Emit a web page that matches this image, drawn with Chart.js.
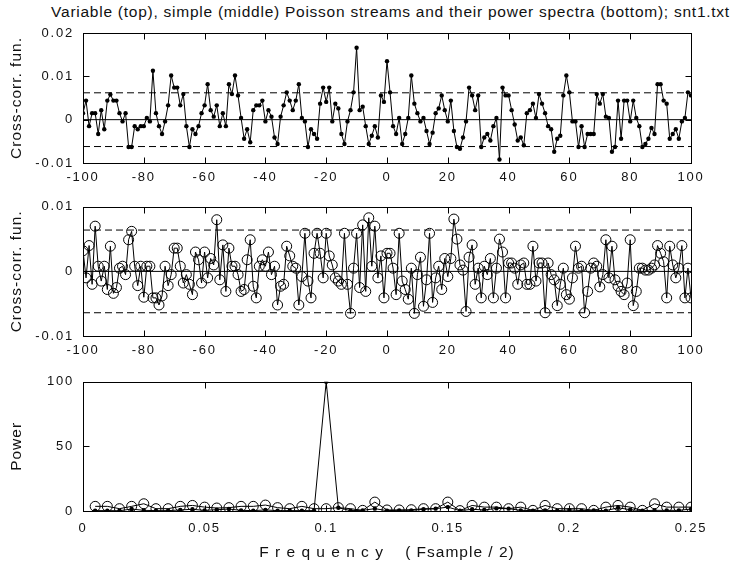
<!DOCTYPE html>
<html>
<head>
<meta charset="utf-8">
<script src="https://cdn.jsdelivr.net/npm/chart.js@4.4.0/dist/chart.umd.min.js"></script>
<style>
  body { margin: 0; background: #fff; width: 750px; height: 565px; position: relative; overflow: hidden; }
  canvas { position: absolute; left: 0; }
  #title { position: absolute; top: 3px; left: 10px; width: 761px; text-align: center; font: 15.5px/18px "Liberation Sans", Arial, sans-serif; letter-spacing: 0.75px; color: #111; white-space: nowrap; }
</style>
</head>
<body>
<div id="title">Variable (top), simple (middle) Poisson streams and their power spectra (bottom); snt1.txt</div>
<canvas id="topChart" width="750" height="195" style="top:0"></canvas>
<canvas id="midChart" width="750" height="190" style="top:190px"></canvas>
<canvas id="specChart" width="750" height="200" style="top:365px"></canvas>
<script>
// lags -100 .. 100
const lags = Array.from({ length: 201 }, (_, i) => i - 100);
const lagRange = [-100, 100];
const lagTicks = [-100, -80, -60, -40, -20, 0, 20, 40, 60, 80, 100];

// variable Poisson stream, cross-correlation (top)
const topCorr = [
  0.0015, 0.0044, -0.0015, 0.0015, 0.0015, -0.0033, 0.0022, -0.0022, 0.0044, 0.0058,
  0.0044, 0.0044, 0.0015, -0.0004, 0.0015, -0.0063, -0.0063, -0.0015, -0.0022, -0.0015,
  -0.0015, 0.0004, -0.0004, 0.0113, 0.0015, -0.0015, -0.0033, -0.0004, 0.0033, 0.0102,
  0.0074, 0.0074, 0.0033, 0.0059, -0.0015, -0.0063, -0.0022, -0.0033, -0.0015, 0.0015,
  0.0033, 0.0082, 0.0022, 0.0007, 0.0033, -0.0015, 0.0015, -0.0015, 0.0082, 0.0059,
  0.0102, 0.0056, 0.0004, -0.0044, -0.0022, -0.0052, 0.0022, 0.0033, 0.0033, 0.0044,
  -0.0004, 0.0022, 0.0007, -0.0041, -0.0056, 0.0007, 0.0033, 0.0063, 0.0044, 0.0022,
  0.0044, 0.0082, 0.0004, -0.0004, -0.0063, -0.0022, -0.0033, -0.0044, 0.0037, 0.0074,
  0.0041, 0.0074, -0.0004, 0.0037, 0.0026, -0.0033, -0.0056, -0.0004, 0.0022, 0.0063,
  0.0166, 0.0022, 0.0030, -0.0015, -0.0056, -0.0037, -0.0015, -0.0041, 0.0056, 0.0041,
  0.0135, 0.0063, -0.0015, -0.0033, 0.0004, -0.0056, -0.0033, 0.0004, 0.0102, 0.0037,
  0.0015, -0.0004, 0.0004, -0.0026, -0.0056, -0.0030, 0.0015, 0.0026, 0.0056, 0.0022,
  -0.0004, 0.0044, -0.0026, -0.0063, -0.0067, -0.0041, -0.0004, 0.0074, 0.0056, 0.0022,
  0.0056, -0.0063, -0.0041, -0.0033, -0.0048, -0.0015, 0.0004, -0.0092, 0.0074, 0.0056,
  0.0056, 0.0022, -0.0011, -0.0048, -0.0041, -0.0059, 0.0015, 0.0022, 0.0037, 0.0004,
  0.0059, 0.0037, 0.0015, -0.0015, -0.0022, -0.0074, -0.0044, -0.0037, 0.0056, 0.0102,
  0.0063, -0.0004, -0.0004, -0.0063, -0.0015, -0.0063, -0.0033, -0.0033, -0.0033, 0.0059,
  0.0037, 0.0059, 0.0007, 0.0004, -0.0074, -0.0063, 0.0044, -0.0044, 0.0044, 0.0044,
  -0.0004, 0.0044, 0.0004, -0.0015, -0.0063, -0.0056, -0.0044, -0.0019, -0.0033, 0.0082,
  0.0082, 0.0044, 0.0037, -0.0044, -0.0033, -0.0022, -0.0044, -0.0004, 0.0004, 0.0063,
  0.0056
];
const topBand = [-0.0062, 0.0062];
const topYRange = [-0.01, 0.02];
const topYTicks = [-0.01, 0, 0.01, 0.02];

// simple Poisson stream, cross-correlation (middle)
const midCorr = [
  0.0032, -0.0010, 0.0040, -0.0020, 0.0070, 0.0008, -0.0015, 0.0008, -0.0028, 0.0039,
  -0.0034, -0.0025, 0.0005, 0.0008, -0.0005, 0.0049, 0.0062, 0.0008, -0.0022, 0.0008,
  -0.0040, 0.0008, 0.0008, -0.0041, -0.0041, -0.0052, -0.0038, 0.0008, -0.0022, -0.0005,
  0.0036, 0.0036, 0.0008, -0.0018, -0.0005, -0.0020, -0.0036, 0.0030, 0.0018, -0.0018,
  0.0030, -0.0010, 0.0020, 0.0010, 0.0080, -0.0013, 0.0041, -0.0031, 0.0036, 0.0008,
  0.0008, -0.0005, -0.0031, -0.0028, 0.0018, 0.0049, -0.0023, -0.0041, 0.0008, 0.0018,
  0.0008, 0.0030, -0.0005, 0.0008, -0.0052, -0.0023, -0.0020, 0.0039, 0.0024, 0.0008,
  0.0005, -0.0052, -0.0008, 0.0059, -0.0015, -0.0041, 0.0028, 0.0059, 0.0028, -0.0010,
  0.0059, 0.0024, 0.0010, -0.0010, -0.0015, -0.0020, 0.0059, -0.0020, -0.0065, 0.0005,
  0.0059, -0.0025, 0.0072, -0.0031, 0.0083, 0.0008, 0.0070, -0.0010, 0.0024, -0.0041,
  0.0028, 0.0028, 0.0005, -0.0036, 0.0059, -0.0015, -0.0028, -0.0043, 0.0005, -0.0065,
  -0.0005, 0.0022, -0.0054, -0.0013, 0.0059, -0.0048, -0.0010, 0.0008, -0.0028, 0.0020,
  -0.0008, 0.0020, 0.0081, 0.0050, 0.0010, 0.0002, -0.0062, 0.0022, 0.0041, -0.0020,
  0.0005, -0.0041, 0.0008, -0.0005, 0.0020, -0.0041, 0.0005, 0.0050, 0.0030, -0.0041,
  0.0013, 0.0013, 0.0005, -0.0020, 0.0010, 0.0013, -0.0020, -0.0020, 0.0039, -0.0015,
  0.0013, 0.0013, -0.0064, 0.0013, -0.0005, -0.0013, -0.0053, -0.0020, 0.0005, -0.0036,
  -0.0043, -0.0010, 0.0039, 0.0005, 0.0008, -0.0064, -0.0031, 0.0005, 0.0013, 0.0008,
  -0.0024, -0.0005, 0.0049, -0.0010, 0.0039, -0.0013, -0.0023, -0.0031, -0.0036, -0.0018,
  0.0049, -0.0053, -0.0031, 0.0005, 0.0005, 0.0002, 0.0002, 0.0005, 0.0010, 0.0040,
  0.0028, 0.0015, -0.0041, 0.0039, 0.0010, -0.0010, 0.0005, 0.0040, -0.0041, 0.0005,
  -0.0041
];
const midBand = [-0.0064, 0.0064];
const midYRange = [-0.01, 0.01];
const midYTicks = [-0.01, 0, 0.01];

// power spectra (bottom), frequency 0.005 .. 0.25
const freqs = Array.from({ length: 50 }, (_, i) => +((i + 1) * 0.005).toFixed(3));
const freqRange = [0, 0.25];
const freqTicks = [0, 0.05, 0.1, 0.15, 0.2, 0.25];
const powerVariable = [
  0.3, 0.3, 0.2, 1.5, 0.5, 0.3, 0.3, 0.8, 1.3, 0.5,
  1.0, 1.5, 0.5, 0.3, 0.8, 0.3, 0.3, 0.3, 0.3, 100,
  2.5, 0.3, 0.5, 1.8, 0.3, 0.5, 0.5, 1.3, 1.8, 3.0,
  0.3, 1.3, 0.8, 2.0, 1.8, 0.5, 0.3, 0.5, 0.3, 0.8,
  0.3, 0.5, 0.3, 2.5, 1.0, 0.3, 0.5, 0.5, 0.5, 1.5
];
const powerSimple = [
  3.6, 3.6, 1.8, 3.6, 5.6, 1.8, 1.8, 3.6, 4.3, 3.0,
  2.3, 2.6, 3.6, 3.6, 4.6, 2.6, 1.8, 3.6, 1.8, 1.8,
  2.6, 1.8, 0.5, 6.9, 0.8, 0.8, 1.0, 1.8, 1.8, 6.9,
  0.3, 4.3, 3.0, 3.0, 1.8, 3.0, 0.5, 4.3, 1.8, 1.8,
  1.8, 0.5, 3.0, 4.3, 3.0, 0.5, 5.6, 3.0, 3.0, 3.0
];
const powerRange = [0, 100];
const powerTicks = [0, 50, 100];

const FONT = '"Liberation Sans", Arial, sans-serif';
Chart.defaults.font.family = FONT;
Chart.defaults.font.size = 13;
Chart.defaults.color = '#111';
Chart.defaults.animation = false;

// box round the axes with inward tick marks, like the original
const boxTicks = {
  id: 'boxTicks',
  afterLayout(chart) {
    // tick labels are spaced wider than the axis titles
    Object.values(chart.scales).forEach(s => {
      if (s._spaced) return;
      const orig = s.drawLabels;
      s.drawLabels = function (area) {
        const prev = this.ctx.letterSpacing;
        this.ctx.letterSpacing = '1.8px';
        orig.call(this, area);
        this.ctx.letterSpacing = prev;
      };
      s._spaced = true;
    });
  },
  beforeDraw(chart) {
    chart.ctx.letterSpacing = '1px';
  },
  afterDraw(chart) {
    const { ctx, chartArea: a, scales } = chart;
    const L = Math.round(a.left) + 0.5, R = Math.round(a.right) + 0.5;
    const T = Math.round(a.top) + 0.5, B = Math.round(a.bottom) + 0.5;
    ctx.save();
    ctx.strokeStyle = '#000';
    ctx.lineWidth = 1;
    ctx.strokeRect(L, T, R - L, B - T);
    ctx.beginPath();
    scales.x.ticks.forEach(t => {
      const px = Math.round(scales.x.getPixelForValue(t.value)) + 0.5;
      ctx.moveTo(px, B); ctx.lineTo(px, B - 6);
      ctx.moveTo(px, T); ctx.lineTo(px, T + 6);
    });
    scales.y.ticks.forEach(t => {
      const py = Math.round(scales.y.getPixelForValue(t.value)) + 0.5;
      ctx.moveTo(L, py); ctx.lineTo(L + 6, py);
      ctx.moveTo(R, py); ctx.lineTo(R - 6, py);
    });
    ctx.stroke();
    ctx.restore();
  }
};

function setTicks(vals) {
  return scale => { scale.ticks = vals.map(v => ({ value: v })); };
}

function xAxis(range, tickVals, height, pad, title) {
  return {
    type: 'linear',
    min: range[0],
    max: range[1],
    grid: { display: false, drawTicks: false },
    border: { display: false },
    afterBuildTicks: setTicks(tickVals),
    afterFit: s => { s.height = height; },
    ticks: { padding: pad, maxRotation: 0, autoSkip: false, callback: v => String(v) },
    title: title
      ? { display: true, text: title, font: { size: 15.5 }, padding: { top: 0, bottom: 3 } }
      : { display: false }
  };
}

function yAxis(range, tickVals, title) {
  return {
    min: range[0],
    max: range[1],
    grid: { display: false, drawTicks: false },
    border: { display: false },
    afterBuildTicks: setTicks(tickVals),
    afterFit: s => { s.width = 83; },
    ticks: { padding: 9, callback: v => String(v) },
    title: { display: true, text: title, font: { size: 15.5 }, padding: { top: 7, bottom: 0 } }
  };
}

function flatLine(range, y, dash) {
  return {
    data: [{ x: range[0], y: y }, { x: range[1], y: y }],
    borderColor: '#000',
    borderWidth: 1,
    borderDash: dash,
    pointRadius: 0
  };
}

function baseOptions(padTop, x, y) {
  return {
    responsive: false,
    layout: { padding: { top: padTop, right: 59, left: 0, bottom: 0 } },
    plugins: { legend: { display: false }, tooltip: { enabled: false } },
    elements: { line: { tension: 0 } },
    scales: { x: x, y: y }
  };
}

new Chart(document.getElementById('topChart'), {
  type: 'line',
  data: {
    labels: lags,
    datasets: [
      flatLine(lagRange, 0, []),
      flatLine(lagRange, topBand[1], [7, 4]),
      flatLine(lagRange, topBand[0], [7, 4]),
      {
        data: topCorr,
        borderColor: '#000',
        borderWidth: 1,
        pointRadius: 2.2,
        pointBackgroundColor: '#000',
        pointBorderWidth: 0
      }
    ]
  },
  options: baseOptions(33, xAxis(lagRange, lagTicks, 32, 7), yAxis(topYRange, topYTicks, 'Cross-corr. fun.')),
  plugins: [boxTicks]
});

new Chart(document.getElementById('midChart'), {
  type: 'line',
  data: {
    labels: lags,
    datasets: [
      flatLine(lagRange, 0, []),
      flatLine(lagRange, midBand[1], [7, 4]),
      flatLine(lagRange, midBand[0], [7, 4]),
      {
        data: midCorr,
        borderColor: '#000',
        borderWidth: 1,
        pointRadius: 5,
        pointBackgroundColor: 'rgba(0,0,0,0)',
        pointBorderColor: '#000',
        pointBorderWidth: 1
      }
    ]
  },
  options: baseOptions(16, xAxis(lagRange, lagTicks, 44, 7), yAxis(midYRange, midYTicks, 'Cross-corr. fun.')),
  plugins: [boxTicks]
});

new Chart(document.getElementById('specChart'), {
  type: 'line',
  data: {
    labels: freqs,
    datasets: [
      {
        data: powerSimple,
        borderColor: '#000',
        borderWidth: 1,
        pointRadius: 5,
        pointBackgroundColor: 'rgba(0,0,0,0)',
        pointBorderColor: '#000',
        pointBorderWidth: 1
      },
      {
        data: powerVariable,
        borderColor: '#000',
        borderWidth: 1,
        pointRadius: 2.2,
        pointBackgroundColor: '#000',
        pointBorderWidth: 0
      }
    ]
  },
  options: baseOptions(15, xAxis(freqRange, freqTicks, 54, 10, 'F r e q u e n c y    ( Fsample / 2)'), yAxis(powerRange, powerTicks, 'Power')),
  plugins: [boxTicks]
});
</script>
</body>
</html>
